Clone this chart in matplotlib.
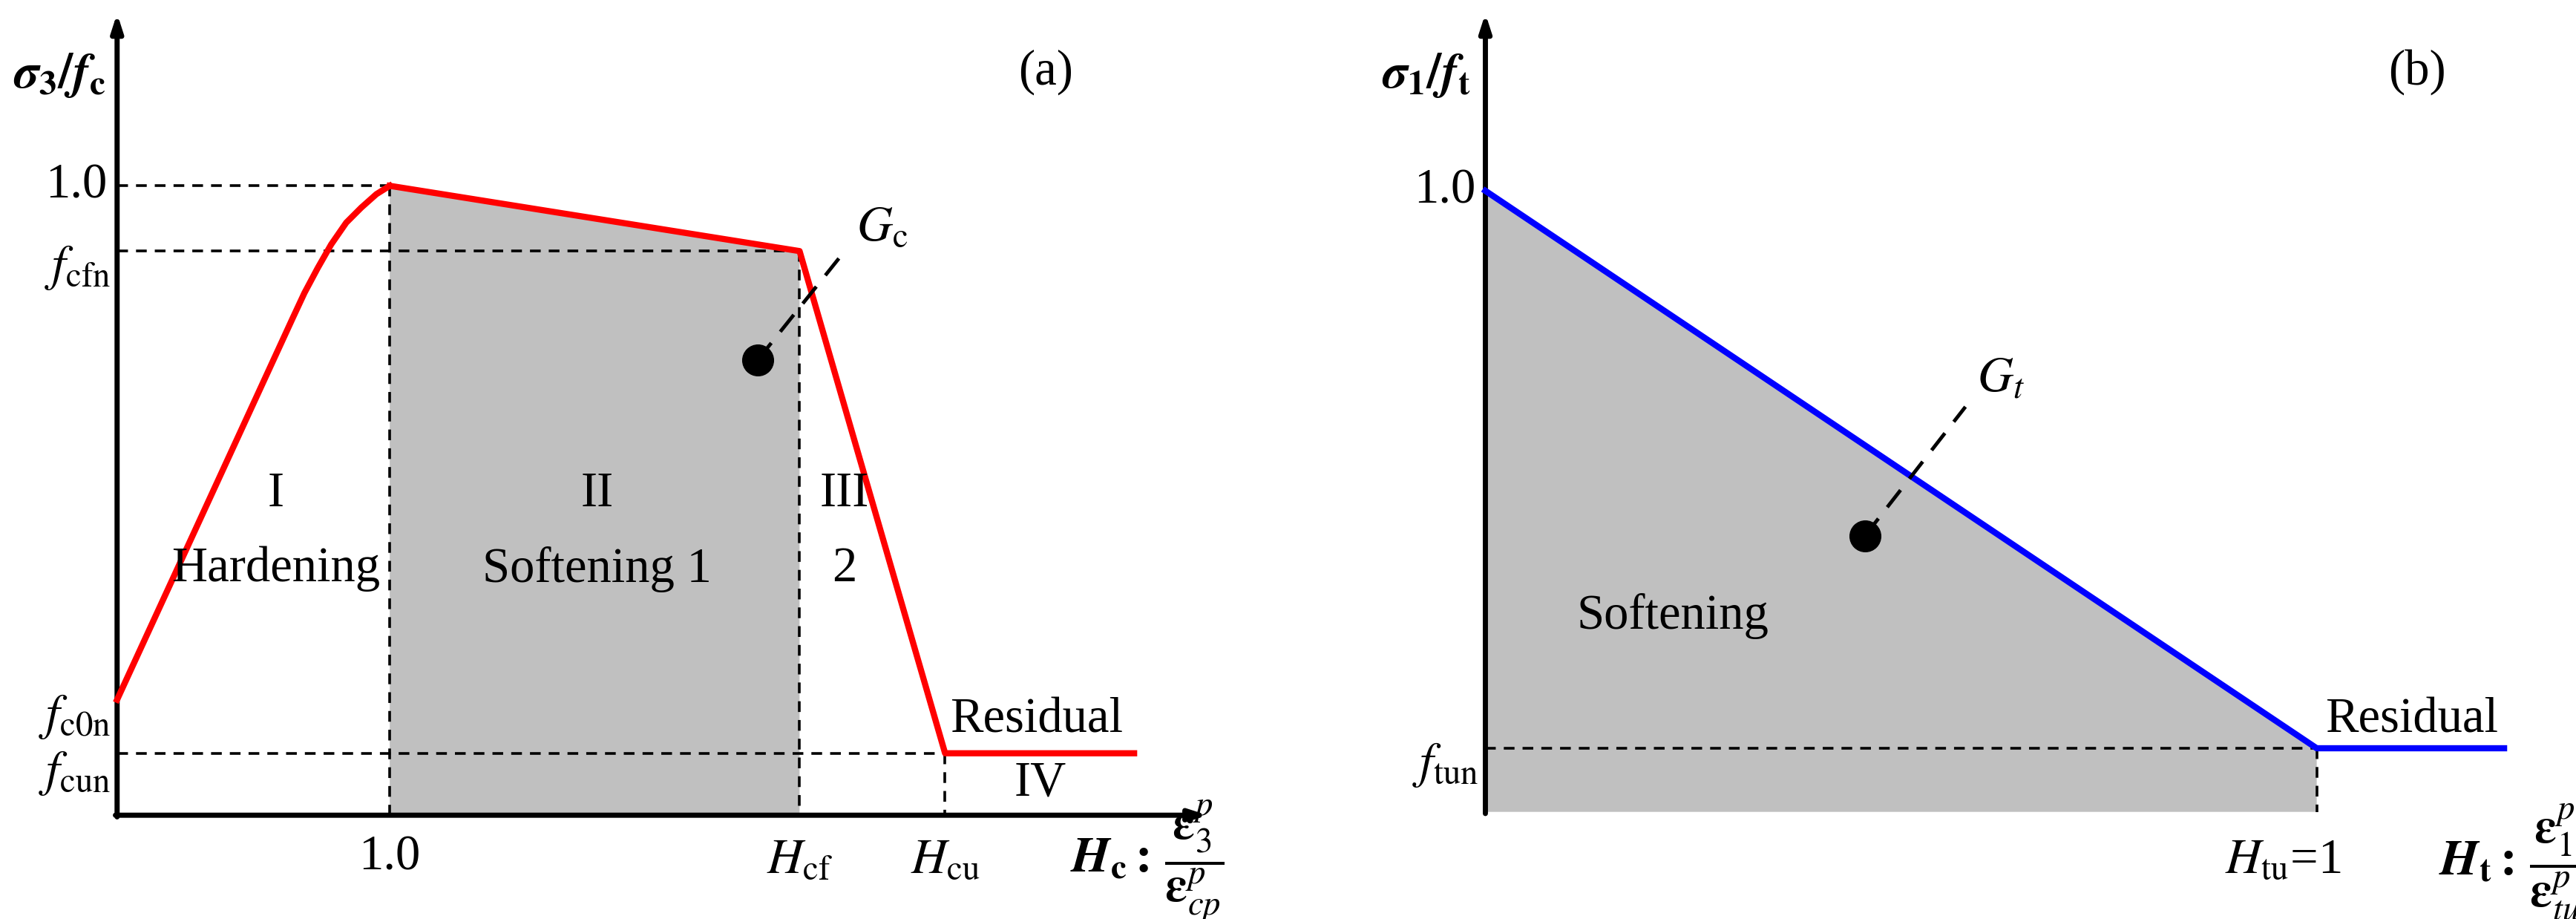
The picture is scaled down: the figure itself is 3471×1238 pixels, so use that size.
import numpy as np
import matplotlib
matplotlib.use("Agg")
import matplotlib.pyplot as plt
from matplotlib.patches import Polygon

plt.rcParams['font.family'] = ['Liberation Serif', 'DejaVu Serif']
plt.rcParams['mathtext.fontset'] = 'stix'

# Panel (a) key curve points (display-unit coordinates, y downward)
a_harden_x = [70, 175, 182, 190, 198, 207, 216, 225, 233]
a_harden_y = [418, 190, 175, 160, 146, 133, 124, 116, 111]
a_rest_x = [233, 478, 565, 678]
a_rest_y = [111, 150, 450, 450]
# Panel (b)
b_x = [888, 1385, 1497]
b_y = [114, 447, 447]

W, H = 1540, 549
fig = plt.figure(figsize=(34.71, 12.38), dpi=100)
ax = fig.add_axes([0, 0, 1, 1])
ax.set_xlim(0, W); ax.set_ylim(H, 0); ax.axis('off')
FS = 48
lw_ax = 5

def arrow_axes(ox, oy, xe, ye):
    ax.annotate('', xy=(xe, oy), xytext=(ox - 1, oy),
                arrowprops=dict(arrowstyle='-|>,head_length=1.4,head_width=0.45', lw=lw_ax, color='black', shrinkA=0, shrinkB=0))
    ax.annotate('', xy=(ox, ye), xytext=(ox, oy + 1),
                arrowprops=dict(arrowstyle='-|>,head_length=1.4,head_width=0.45', lw=lw_ax, color='black', shrinkA=0, shrinkB=0))

dash = dict(color='black', lw=2.6, ls=(0, (4, 3)))
frac_a = r'$\boldsymbol{H}_{\mathbf{c}}\mathbf{:}\,\dfrac{\boldsymbol{\varepsilon}^{p}_{3}}{\boldsymbol{\varepsilon}^{p}_{cp}}$'
frac_b = r'$\boldsymbol{H}_{\mathbf{t}}\mathbf{:}\,\dfrac{\boldsymbol{\varepsilon}^{p}_{1}}{\boldsymbol{\varepsilon}^{p}_{tu}}$'

# ---------- Panel (a) ----------
ox, oy = 70, 487
ax.add_patch(Polygon([(233, oy), (233, 111), (478, 150), (478, oy)], closed=True,
                     facecolor='#c0c0c0', edgecolor='none', zorder=1))
arrow_axes(ox, oy, 722, 8)
ax.plot([ox, 233], [111, 111], **dash)
ax.plot([ox, 478], [150, 150], **dash)
ax.plot([ox, 565], [450, 450], **dash)
ax.plot([233, 233], [111, oy], **dash)
ax.plot([478, 478], [150, oy], **dash)
ax.plot([565, 565], [450, oy], **dash)
ax.plot(a_harden_x, a_harden_y, color='red', lw=6, zorder=3, solid_joinstyle='round')
ax.plot(a_rest_x, a_rest_y, color='red', lw=6, zorder=3, solid_joinstyle='round')
ax.plot([453, 505], [215, 150], color='black', lw=3.5, ls=(0, (6, 4)), zorder=4)
ax.plot(453, 215, 'o', color='black', ms=30, zorder=5)
ax.text(512, 150, r'$G_{\mathrm{c}}$', fontsize=FS, ha='left', va='bottom')
ax.text(8, 45, r'$\boldsymbol{\sigma}_{\mathbf{3}}\mathbf{/}\boldsymbol{f}_{\mathbf{c}}$', fontsize=FS, ha='left', va='center')
ax.text(625, 43, '(a)', fontsize=FS, ha='center', va='center')
ax.text(64, 111, '1.0', fontsize=FS, ha='right', va='center')
ax.text(66, 160, r'$f_{\mathrm{cfn}}$', fontsize=FS, ha='right', va='center')
ax.text(66, 428, r'$f_{\mathrm{c0n}}$', fontsize=FS, ha='right', va='center')
ax.text(66, 462, r'$f_{\mathrm{cun}}$', fontsize=FS, ha='right', va='center')
ax.text(233, 512, '1.0', fontsize=FS, ha='center', va='center')
ax.text(478, 514, r'$H_{\mathrm{cf}}$', fontsize=FS, ha='center', va='center')
ax.text(565, 514, r'$H_{\mathrm{cu}}$', fontsize=FS, ha='center', va='center')
ax.text(640, 515, frac_a, fontsize=FS, ha='left', va='center')
ax.text(165, 295, 'I', fontsize=FS, ha='center', va='center')
ax.text(165, 340, 'Hardening', fontsize=FS, ha='center', va='center')
ax.text(357, 295, 'II', fontsize=FS, ha='center', va='center')
ax.text(357, 340, 'Softening 1', fontsize=FS, ha='center', va='center')
ax.text(505, 295, 'III', fontsize=FS, ha='center', va='center')
ax.text(505, 340, '2', fontsize=FS, ha='center', va='center')
ax.text(568, 430, 'Residual', fontsize=FS, ha='left', va='center')
ax.text(622, 468, 'IV', fontsize=FS, ha='center', va='center')

# ---------- Panel (b) ----------
ox, oy = 888, 485
ax.add_patch(Polygon([(888, oy), (888, 114), (1385, 447), (1385, oy)], closed=True,
                     facecolor='#c0c0c0', edgecolor='none', zorder=1))
arrow_axes(ox, oy, 1542, 8)
ax.plot([ox, 1385], [447, 447], **dash)
ax.plot([1385, 1385], [447, oy], **dash)
ax.plot(b_x, b_y, color='blue', lw=6, zorder=3)
ax.plot([1115, 1175], [320, 243], color='black', lw=3.5, ls=(0, (6, 4)), zorder=4)
ax.plot(1115, 320, 'o', color='black', ms=30, zorder=5)
ax.text(1182, 240, r'$G_{t}$', fontsize=FS, ha='left', va='bottom')
ax.text(826, 45, r'$\boldsymbol{\sigma}_{\mathbf{1}}\mathbf{/}\boldsymbol{f}_{\mathbf{t}}$', fontsize=FS, ha='left', va='center')
ax.text(1445, 43, '(b)', fontsize=FS, ha='center', va='center')
ax.text(882, 114, '1.0', fontsize=FS, ha='right', va='center')
ax.text(884, 457, r'$f_{\mathrm{tun}}$', fontsize=FS, ha='right', va='center')
ax.text(1365, 514, r'$H_{\mathrm{tu}}$=1', fontsize=FS, ha='center', va='center')
ax.text(1458, 515, frac_b, fontsize=FS, ha='left', va='center')
ax.text(1000, 368, 'Softening', fontsize=FS, ha='center', va='center')
ax.text(1390, 430, 'Residual', fontsize=FS, ha='left', va='center')

fig.savefig('out.png', dpi=100)
